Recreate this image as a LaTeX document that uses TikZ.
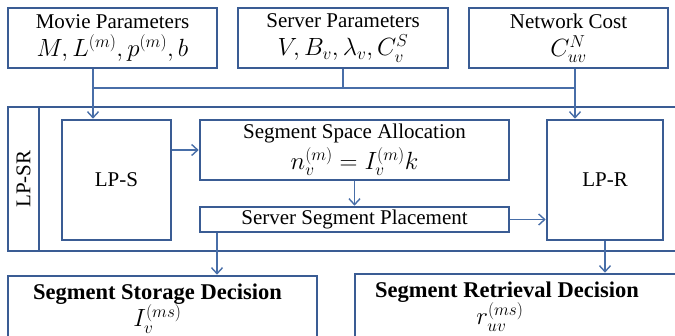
\documentclass[tikz,border=0pt]{standalone}
\usepackage{fontspec}
\setmainfont{Liberation Serif}
\usetikzlibrary{arrows.meta}
\definecolor{boxblue}{RGB}{58,92,148}
\definecolor{lineblue}{RGB}{72,110,168}
\newcommand{\mth}[1]{{\fontsize{23.5}{25}\selectfont$#1$}}
\newcommand{\bfbig}[1]{{\fontsize{22.5}{25}\selectfont\bfseries #1}}
\tikzset{
	box/.style={rectangle,draw=boxblue,line width=2.6pt,inner sep=0pt,align=center},
	link/.style={draw=lineblue,line width=1.4pt},
	>={Straight Barb[length=6pt,width=11pt]}
}
\begin{document}
\begin{tikzpicture}[x=1pt,y=-1pt,font=\fontsize{21}{25}\selectfont]
				\useasboundingbox (0,0) rectangle (675,335);
				\clip (0,0) rectangle (675,335);
				
				\coordinate (busL) at (93,88);
				\coordinate (busR) at (575,88);
				\coordinate (dropL) at (217,0);
				\begin{scope}[every node/.style={box}]
					\node[minimum width=209pt,minimum height=60pt] (movie) at (112.5,38) {Movie Parameters\\[3pt]\mth{M, L^{(m)}, p^{(m)}, b}};
					\node[minimum width=210pt,minimum height=60pt] (server) at (343,38) {Server Parameters\\[3pt]\mth{V, B_v, \lambda_v, C_v^S}};
					\node[minimum width=199pt,minimum height=60pt] (network) at (568.5,38) {Network Cost\\[3pt]\mth{C_{uv}^N}};
					\node[minimum width=682pt,minimum height=144pt] (lpsr) at (349,179) {};
					\node[rotate=90,minimum width=144pt,minimum height=31pt] (lpsrlabel) at (23.5,179) {LP-SR};
					\node[minimum width=109pt,minimum height=120pt] (lps) at (116.5,180) {LP-S};
					\node[minimum width=309pt,minimum height=60pt] (alloc) at (354.5,150) {Segment Space Allocation\\[3pt]\mth{n_v^{(m)} = I_v^{(m)} k}};
					\node[minimum width=309pt,minimum height=25pt] (place) at (354.5,219.5) {Server Segment Placement};
					\node[minimum width=116pt,minimum height=120pt] (lpr) at (605,180) {LP-R};
					\node (storage) at (162.5,314) {\parbox[c][76pt][t]{309pt}{\makebox[299pt]{\rule{0pt}{23pt}\bfbig{Segment Storage Decision}}\\\makebox[299pt]{\mth{I_v^{(ms)}}}}};
					\node (retrieval) at (520,312) {\parbox[c][76pt][t]{330pt}{\makebox[304pt]{\rule{0pt}{23pt}\bfbig{Segment Retrieval Decision}}\\\makebox[290pt]{\mth{r_{uv}^{(ms)}}}}};
				\end{scope}
				
				\path [link] (movie.south -| busL) -- (busL) -- (busR);
				\path [link] (server.south) -- (server.south |- busL);
				\path [link,->] (busL) -- (busL |- lps.north);
				\path [link,->] (network.south -| busR) -- (busR |- lpr.north);
				\path [link,->] (alloc.west -| lps.east) -- (alloc.west);
				\path [link,->] (alloc) -- (place);
				\path [link,->] (place.east) -- (place.east -| lpr.west);
				\path [link,->] (place.south -| dropL) -- (storage.north -| dropL);
				\path [link,->] (lpr.south) -- (lpr.south |- retrieval.north);
			\end{tikzpicture}
\end{document}
